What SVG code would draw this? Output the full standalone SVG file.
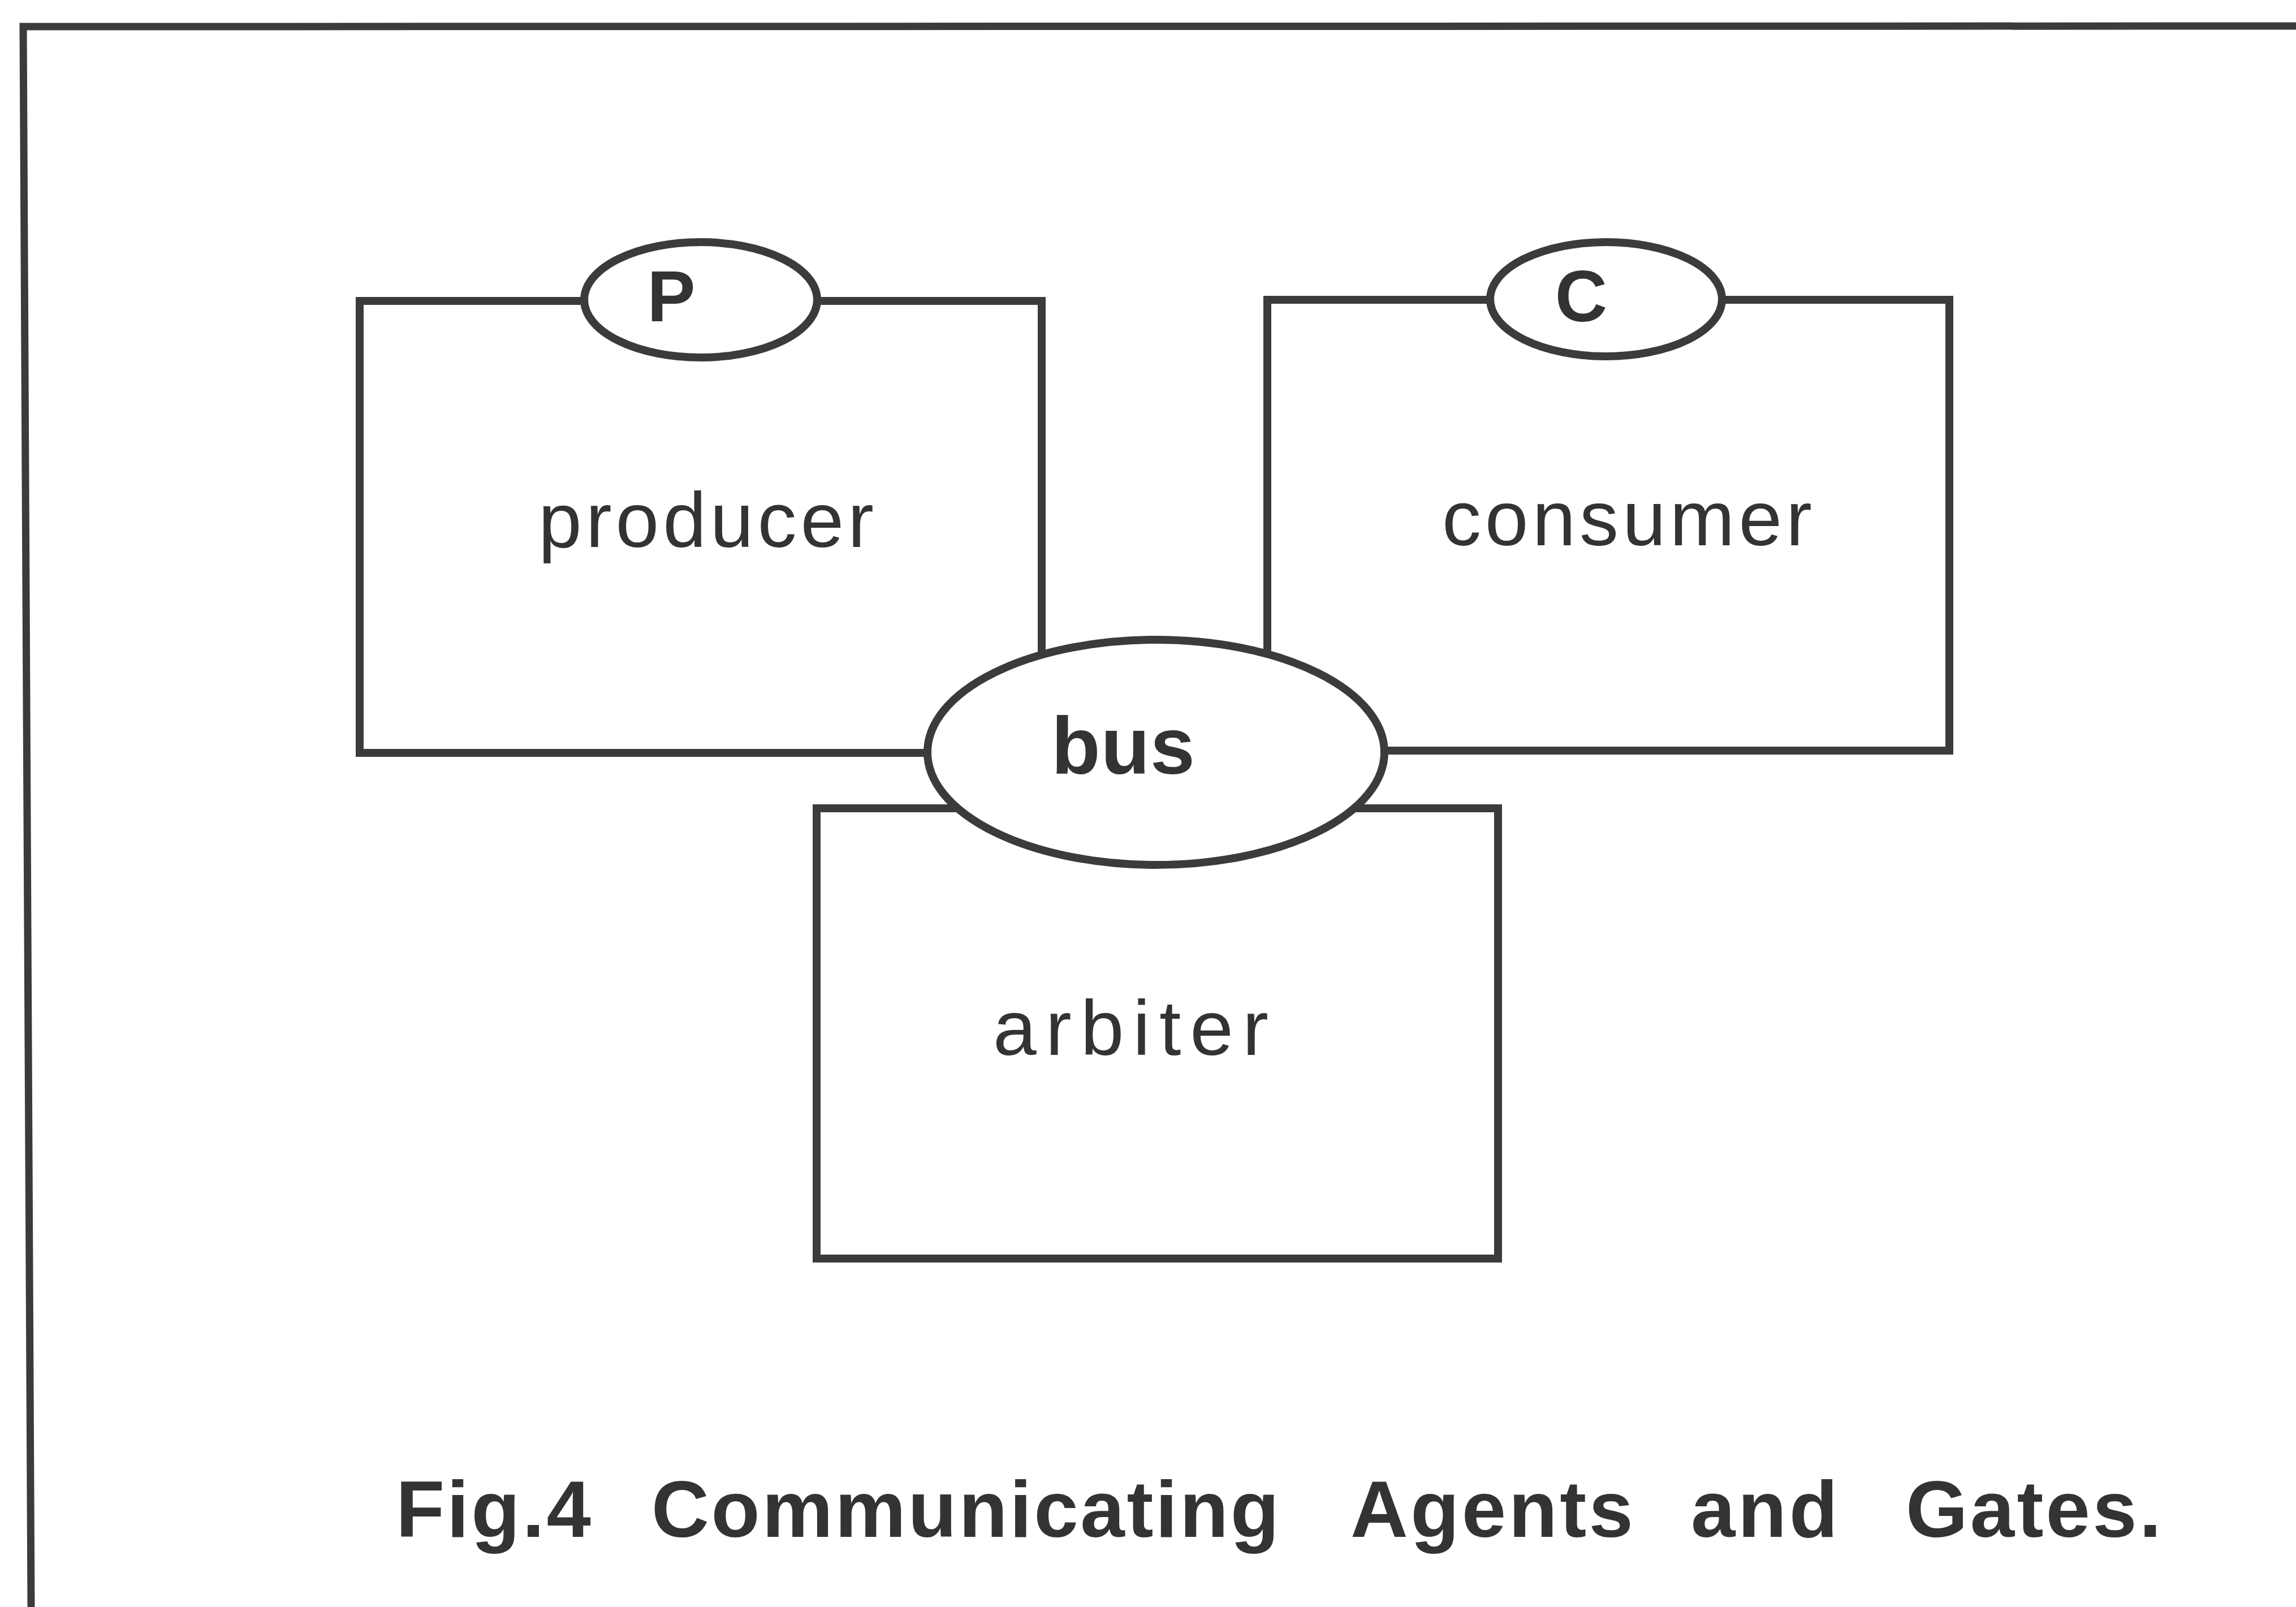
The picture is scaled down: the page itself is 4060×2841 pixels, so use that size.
<svg xmlns="http://www.w3.org/2000/svg" width="4060" height="2841" viewBox="0 0 4060 2841">
  <style>
    .frame { fill: none; stroke: #3b3b3b; stroke-width: 13; }
    .box { fill: none; stroke: #3b3b3b; stroke-width: 14; }
    .gate { fill: #ffffff; stroke: #3b3b3b; stroke-width: 14; }
    .label { font-family: "Liberation Sans", Arial, sans-serif; font-size: 138px; fill: #333333; }
    .gname { font-family: "Liberation Sans", Arial, sans-serif; font-weight: bold; fill: #333333; }
    .caption { font-family: "Liberation Sans", Arial, sans-serif; font-weight: bold; font-size: 141px; fill: #333333; }
  </style>
  <rect width="4060" height="2841" fill="#ffffff"/>

  <!-- page frame (top and left edges) -->
  <path class="frame" d="M 4060 46 L 41 47 L 55 2841"/>

  <!-- agents -->
  <g id="producer">
    <rect class="box" x="636" y="532" width="1206" height="799"/>
    <text class="label" x="952" y="967" textLength="593" lengthAdjust="spacing">producer</text>
  </g>
  <g id="consumer">
    <rect class="box" x="2241" y="530" width="1206" height="797"/>
    <text class="label" x="2550" y="964" textLength="654" lengthAdjust="spacing">consumer</text>
  </g>
  <g id="arbiter">
    <rect class="box" x="1444" y="1429" width="1205" height="796"/>
    <text class="label" x="1756" y="1865" textLength="487" lengthAdjust="spacing">arbiter</text>
  </g>

  <!-- gates -->
  <g id="connectors">
    <g id="gate-P">
      <ellipse class="gate" cx="1239" cy="530" rx="206" ry="102"/>
      <text class="gname" x="1187" y="568" font-size="128" text-anchor="middle">P</text>
    </g>
    <g id="gate-C">
      <ellipse class="gate" cx="2840" cy="529" rx="205" ry="101"/>
      <text class="gname" x="2796" y="568" font-size="128" text-anchor="middle">C</text>
    </g>
    <g id="gate-bus">
      <ellipse class="gate" cx="2044" cy="1330" rx="404" ry="199"/>
      <text class="gname" x="1859" y="1368" font-size="142" textLength="254" lengthAdjust="spacing">bus</text>
    </g>
  </g>

  <!-- caption -->
  <g id="caption">
    <text class="caption" x="700" y="2717" textLength="345" lengthAdjust="spacing">Fig.4</text>
    <text class="caption" x="1152" y="2717" textLength="1110" lengthAdjust="spacing">Communicating</text>
    <text class="caption" x="2388" y="2717" textLength="500" lengthAdjust="spacing">Agents</text>
    <text class="caption" x="2990" y="2717" textLength="260" lengthAdjust="spacing">and</text>
    <text class="caption" x="3370" y="2717" textLength="452" lengthAdjust="spacing">Gates.</text>
  </g>
</svg>
